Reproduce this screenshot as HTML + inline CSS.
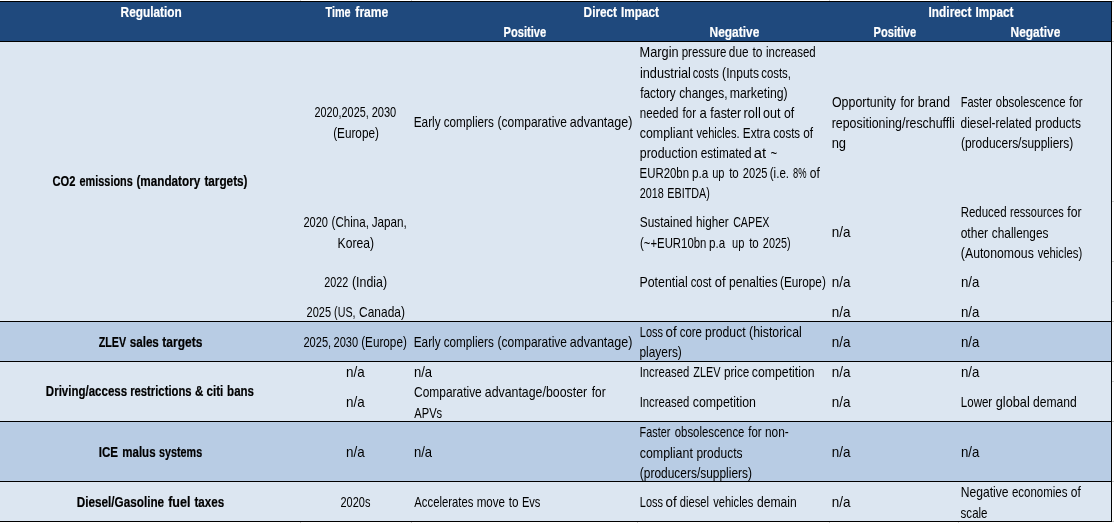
<!DOCTYPE html>
<html lang="en">
<head>
<meta charset="utf-8">
<title>Regulation impact table</title>
<style>
html,body{margin:0;padding:0;background:#fff;}
body{width:1114px;height:523px;overflow:hidden;position:relative;font-family:"Liberation Sans",sans-serif;font-size:14.3px;line-height:20px;color:#000;}
#tbl{position:absolute;left:0;top:1px;width:1112px;height:521px;background:#000;overflow:hidden;}
.r{position:absolute;left:0;width:1111px;}
.l{position:absolute;left:0;height:20px;white-space:pre;}
.l span{position:absolute;left:0;top:0;height:20px;white-space:pre;transform-origin:0 50%;}
.b{font-weight:bold;-webkit-text-stroke:0.2px currentColor;}
.w{color:#fff;}
.g{position:absolute;background:#d2d2d2;}
</style>
</head>
<body>
<i class="g" style="left:300px;top:0;width:1px;height:1px"></i><i class="g" style="left:300px;top:522px;width:1px;height:1px"></i>
<i class="g" style="left:411px;top:0;width:1px;height:1px"></i><i class="g" style="left:411px;top:522px;width:1px;height:1px"></i>
<i class="g" style="left:637px;top:0;width:1px;height:1px"></i><i class="g" style="left:637px;top:522px;width:1px;height:1px"></i>
<i class="g" style="left:829px;top:0;width:1px;height:1px"></i><i class="g" style="left:829px;top:522px;width:1px;height:1px"></i>
<i class="g" style="left:958px;top:0;width:1px;height:1px"></i><i class="g" style="left:958px;top:522px;width:1px;height:1px"></i>
<i class="g" style="left:1112px;top:1px;width:2px;height:1px"></i>
<i class="g" style="left:1112px;top:21px;width:2px;height:1px"></i>
<i class="g" style="left:1112px;top:41px;width:2px;height:1px"></i>
<i class="g" style="left:1112px;top:201px;width:2px;height:1px"></i>
<i class="g" style="left:1112px;top:261px;width:2px;height:1px"></i>
<i class="g" style="left:1112px;top:301px;width:2px;height:1px"></i>
<i class="g" style="left:1112px;top:321px;width:2px;height:1px"></i>
<i class="g" style="left:1112px;top:361px;width:2px;height:1px"></i>
<i class="g" style="left:1112px;top:381px;width:2px;height:1px"></i>
<i class="g" style="left:1112px;top:421px;width:2px;height:1px"></i>
<i class="g" style="left:1112px;top:481px;width:2px;height:1px"></i>
<i class="g" style="left:1112px;top:521px;width:2px;height:1px"></i>
<div id="tbl">
<div class="r" style="top:1px;height:39px;background:#1f497d"></div>
<div class="r" style="top:41px;height:279px;background:#dce6f1"></div>
<div class="r" style="top:321px;height:39px;background:#b8cce4"></div>
<div class="r" style="top:361px;height:59px;background:#dce6f1"></div>
<div class="r" style="top:421px;height:59px;background:#b8cce4"></div>
<div class="r" style="top:481px;height:39px;background:#dce6f1"></div>
</div>
<div class="l b w" style="top:2.05px"><span style="transform:translateX(120.60px) scaleX(0.828)">Regulation</span></div>
<div class="l b w" style="top:2.05px"><span style="transform:translateX(325.56px) scaleX(0.757)">Time</span> <span style="transform:translateX(355.36px) scaleX(0.845)">frame</span></div>
<div class="l b w" style="top:2.05px"><span style="transform:translateX(583.62px) scaleX(0.824)">Direct</span> <span style="transform:translateX(620.99px) scaleX(0.825)">Impact</span></div>
<div class="l b w" style="top:2.05px"><span style="transform:translateX(928.58px) scaleX(0.829)">Indirect</span> <span style="transform:translateX(975.40px) scaleX(0.826)">Impact</span></div>
<div class="l b w" style="top:22.05px"><span style="transform:translateX(503.61px) scaleX(0.777)">Positive</span></div>
<div class="l b w" style="top:22.05px"><span style="transform:translateX(709.58px) scaleX(0.834)">Negative</span></div>
<div class="l b w" style="top:22.05px"><span style="transform:translateX(873.61px) scaleX(0.777)">Positive</span></div>
<div class="l b w" style="top:22.05px"><span style="transform:translateX(1010.58px) scaleX(0.834)">Negative</span></div>
<div class="l b" style="top:171.05px"><span style="transform:translateX(52.42px) scaleX(0.781)">CO2</span> <span style="transform:translateX(79.55px) scaleX(0.761)">emissions</span> <span style="transform:translateX(136.39px) scaleX(0.820)">(mandatory</span> <span style="transform:translateX(204.41px) scaleX(0.822)">targets)</span></div>
<div class="l b" style="top:332.05px"><span style="transform:translateX(98.69px) scaleX(0.750)">ZLEV</span> <span style="transform:translateX(129.68px) scaleX(0.815)">sales</span> <span style="transform:translateX(162.37px) scaleX(0.839)">targets</span></div>
<div class="l b" style="top:381.05px"><span style="transform:translateX(45.86px) scaleX(0.805)">Driving/access</span> <span style="transform:translateX(130.18px) scaleX(0.788)">restrictions</span> <span style="transform:translateX(195.03px) scaleX(0.811)">&amp;</span> <span style="transform:translateX(206.43px) scaleX(0.814)">citi</span> <span style="transform:translateX(227.11px) scaleX(0.806)">bans</span></div>
<div class="l b" style="top:442.05px"><span style="transform:translateX(98.75px) scaleX(0.808)">ICE</span> <span style="transform:translateX(122.28px) scaleX(0.805)">malus</span> <span style="transform:translateX(159.06px) scaleX(0.753)">systems</span></div>
<div class="l b" style="top:492.05px"><span style="transform:translateX(76.79px) scaleX(0.820)">Diesel/Gasoline</span> <span style="transform:translateX(168.19px) scaleX(0.874)">fuel</span> <span style="transform:translateX(194.43px) scaleX(0.813)">taxes</span></div>
<div class="l" style="top:102.05px"><span style="transform:translateX(314.51px) scaleX(0.757)">2020,2025,</span> <span style="transform:translateX(371.64px) scaleX(0.773)">2030</span></div>
<div class="l" style="top:122.55px"><span style="transform:translateX(333.15px) scaleX(0.822)">(Europe)</span></div>
<div class="l" style="top:212.05px"><span style="transform:translateX(303.41px) scaleX(0.774)">2020</span> <span style="transform:translateX(331.55px) scaleX(0.810)">(China,</span> <span style="transform:translateX(371.71px) scaleX(0.819)">Japan,</span></div>
<div class="l" style="top:232.55px"><span style="transform:translateX(337.56px) scaleX(0.850)">Korea)</span></div>
<div class="l" style="top:272.05px"><span style="transform:translateX(324.32px) scaleX(0.756)">2022</span> <span style="transform:translateX(351.97px) scaleX(0.866)">(India)</span></div>
<div class="l" style="top:302.05px"><span style="transform:translateX(306.62px) scaleX(0.770)">2025</span> <span style="transform:translateX(334.11px) scaleX(0.749)">(US,</span> <span style="transform:translateX(359.09px) scaleX(0.835)">Canada)</span></div>
<div class="l" style="top:332.05px"><span style="transform:translateX(303.41px) scaleX(0.775)">2025,</span> <span style="transform:translateX(333.48px) scaleX(0.773)">2030</span> <span style="transform:translateX(361.19px) scaleX(0.820)">(Europe)</span></div>
<div class="l" style="top:362.05px"><span style="transform:translateX(345.96px) scaleX(0.938)">n/a</span></div>
<div class="l" style="top:392.05px"><span style="transform:translateX(345.96px) scaleX(0.938)">n/a</span></div>
<div class="l" style="top:442.05px"><span style="transform:translateX(345.96px) scaleX(0.938)">n/a</span></div>
<div class="l" style="top:492.05px"><span style="transform:translateX(340.49px) scaleX(0.767)">2020s</span></div>
<div class="l" style="top:112.05px"><span style="transform:translateX(413.70px) scaleX(0.828)">Early</span> <span style="transform:translateX(443.73px) scaleX(0.818)">compliers</span> <span style="transform:translateX(497.58px) scaleX(0.840)">(comparative</span> <span style="transform:translateX(569.76px) scaleX(0.875)">advantage)</span></div>
<div class="l" style="top:332.05px"><span style="transform:translateX(413.70px) scaleX(0.828)">Early</span> <span style="transform:translateX(443.73px) scaleX(0.818)">compliers</span> <span style="transform:translateX(497.58px) scaleX(0.840)">(comparative</span> <span style="transform:translateX(569.76px) scaleX(0.875)">advantage)</span></div>
<div class="l" style="top:362.05px"><span style="transform:translateX(413.95px) scaleX(0.916)">n/a</span></div>
<div class="l" style="top:382.05px"><span style="transform:translateX(414.06px) scaleX(0.835)">Comparative</span> <span style="transform:translateX(484.78px) scaleX(0.864)">advantage/booster</span> <span style="transform:translateX(591.74px) scaleX(0.830)">for</span></div>
<div class="l" style="top:402.55px"><span style="transform:translateX(414.33px) scaleX(0.779)">APVs</span></div>
<div class="l" style="top:442.05px"><span style="transform:translateX(413.95px) scaleX(0.916)">n/a</span></div>
<div class="l" style="top:492.05px"><span style="transform:translateX(414.31px) scaleX(0.790)">Accelerates</span> <span style="transform:translateX(476.64px) scaleX(0.813)">move</span> <span style="transform:translateX(508.71px) scaleX(0.819)">to</span> <span style="transform:translateX(521.92px) scaleX(0.776)">Evs</span></div>
<div class="l" style="top:42.05px"><span style="transform:translateX(639.54px) scaleX(0.893)">Margin</span> <span style="transform:translateX(681.70px) scaleX(0.805)">pressure</span> <span style="transform:translateX(728.83px) scaleX(0.824)">due</span> <span style="transform:translateX(752.43px) scaleX(0.843)">to</span> <span style="transform:translateX(766.08px) scaleX(0.800)">increased</span></div>
<div class="l" style="top:62.75px"><span style="transform:translateX(639.88px) scaleX(0.892)">industrial</span> <span style="transform:translateX(692.71px) scaleX(0.779)">costs</span> <span style="transform:translateX(722.12px) scaleX(0.843)">(Inputs</span> <span style="transform:translateX(761.25px) scaleX(0.796)">costs,</span></div>
<div class="l" style="top:83.05px"><span style="transform:translateX(640.13px) scaleX(0.831)">factory</span> <span style="transform:translateX(679.17px) scaleX(0.832)">changes,</span> <span style="transform:translateX(729.72px) scaleX(0.858)">marketing)</span></div>
<div class="l" style="top:103.05px"><span style="transform:translateX(639.85px) scaleX(0.811)">needed</span> <span style="transform:translateX(682.57px) scaleX(0.803)">for</span> <span style="transform:translateX(699.62px) scaleX(0.918)">a</span> <span style="transform:translateX(710.35px) scaleX(0.863)">faster</span> <span style="transform:translateX(743.50px) scaleX(0.908)">roll</span> <span style="transform:translateX(763.05px) scaleX(0.880)">out</span> <span style="transform:translateX(784.00px) scaleX(0.858)">of</span></div>
<div class="l" style="top:123.05px"><span style="transform:translateX(639.71px) scaleX(0.869)">compliant</span> <span style="transform:translateX(696.53px) scaleX(0.772)">vehicles.</span> <span style="transform:translateX(742.83px) scaleX(0.822)">Extra</span> <span style="transform:translateX(773.27px) scaleX(0.804)">costs</span> <span style="transform:translateX(803.28px) scaleX(0.828)">of</span></div>
<div class="l" style="top:143.05px"><span style="transform:translateX(639.84px) scaleX(0.865)">production</span> <span style="transform:translateX(700.69px) scaleX(0.822)">estimated</span> <span style="transform:translateX(753.69px) scaleX(1.031)">at</span> <span style="transform:translateX(770.54px) scaleX(0.806)">~</span></div>
<div class="l" style="top:163.05px"><span style="transform:translateX(639.59px) scaleX(0.797)">EUR20bn</span> <span style="transform:translateX(691.92px) scaleX(0.822)">p.a</span> <span style="transform:translateX(712.16px) scaleX(0.772)">up</span> <span style="transform:translateX(729.16px) scaleX(0.807)">to</span> <span style="transform:translateX(742.80px) scaleX(0.776)">2025</span> <span style="transform:translateX(769.77px) scaleX(0.809)">(i.e.</span> <span style="transform:translateX(792.95px) scaleX(0.652)">8%</span> <span style="transform:translateX(809.86px) scaleX(0.841)">of</span></div>
<div class="l" style="top:183.05px"><span style="transform:translateX(639.67px) scaleX(0.759)">2018</span> <span style="transform:translateX(667.37px) scaleX(0.753)">EBITDA)</span></div>
<div class="l" style="top:212.05px"><span style="transform:translateX(639.80px) scaleX(0.828)">Sustained</span> <span style="transform:translateX(696.08px) scaleX(0.820)">higher</span> <span style="transform:translateX(733.15px) scaleX(0.748)">CAPEX</span></div>
<div class="l" style="top:233.05px"><span style="transform:translateX(640.00px) scaleX(0.795)">(~+EUR10bn</span> <span style="transform:translateX(709.08px) scaleX(0.814)">p.a</span>  <span style="transform:translateX(732.03px) scaleX(0.776)">up</span> <span style="transform:translateX(749.16px) scaleX(0.807)">to</span> <span style="transform:translateX(762.85px) scaleX(0.759)">2025)</span></div>
<div class="l" style="top:272.05px"><span style="transform:translateX(639.45px) scaleX(0.866)">Potential</span> <span style="transform:translateX(690.66px) scaleX(0.795)">cost</span> <span style="transform:translateX(714.71px) scaleX(0.911)">of</span> <span style="transform:translateX(729.00px) scaleX(0.847)">penalties</span> <span style="transform:translateX(780.02px) scaleX(0.823)">(Europe)</span></div>
<div class="l" style="top:322.05px"><span style="transform:translateX(639.81px) scaleX(0.767)">Loss</span> <span style="transform:translateX(665.62px) scaleX(0.935)">of</span> <span style="transform:translateX(679.64px) scaleX(0.804)">core</span> <span style="transform:translateX(704.89px) scaleX(0.855)">product</span> <span style="transform:translateX(749.03px) scaleX(0.862)">(historical</span></div>
<div class="l" style="top:342.05px"><span style="transform:translateX(639.46px) scaleX(0.833)">players)</span></div>
<div class="l" style="top:362.05px"><span style="transform:translateX(639.65px) scaleX(0.792)">Increased</span> <span style="transform:translateX(693.31px) scaleX(0.763)">ZLEV</span> <span style="transform:translateX(723.89px) scaleX(0.822)">price</span> <span style="transform:translateX(751.78px) scaleX(0.860)">competition</span></div>
<div class="l" style="top:392.05px"><span style="transform:translateX(639.65px) scaleX(0.792)">Increased</span> <span style="transform:translateX(692.72px) scaleX(0.865)">competition</span></div>
<div class="l" style="top:422.05px"><span style="transform:translateX(639.58px) scaleX(0.758)">Faster</span> <span style="transform:translateX(674.69px) scaleX(0.798)">obsolescence</span> <span style="transform:translateX(748.21px) scaleX(0.800)">for</span> <span style="transform:translateX(764.91px) scaleX(0.833)">non-</span></div>
<div class="l" style="top:443.05px"><span style="transform:translateX(639.71px) scaleX(0.869)">compliant</span> <span style="transform:translateX(696.45px) scaleX(0.839)">products</span></div>
<div class="l" style="top:462.55px"><span style="transform:translateX(639.82px) scaleX(0.835)">(producers/suppliers)</span></div>
<div class="l" style="top:492.05px"><span style="transform:translateX(639.81px) scaleX(0.767)">Loss</span> <span style="transform:translateX(665.62px) scaleX(0.935)">of</span> <span style="transform:translateX(679.73px) scaleX(0.781)">diesel</span> <span style="transform:translateX(713.17px) scaleX(0.778)">vehicles</span> <span style="transform:translateX(756.89px) scaleX(0.848)">demain</span></div>
<div class="l" style="top:92.05px"><span style="transform:translateX(831.97px) scaleX(0.867)">Opportunity</span> <span style="transform:translateX(900.40px) scaleX(0.821)">for</span> <span style="transform:translateX(917.72px) scaleX(0.886)">brand</span></div>
<div class="l" style="top:112.55px"><span style="transform:translateX(831.73px) scaleX(0.866)">repositioning/reschuffli</span></div>
<div class="l" style="top:132.55px"><span style="transform:translateX(831.65px) scaleX(0.906)">ng</span></div>
<div class="l" style="top:222.05px"><span style="transform:translateX(831.69px) scaleX(0.942)">n/a</span></div>
<div class="l" style="top:272.05px"><span style="transform:translateX(831.69px) scaleX(0.942)">n/a</span></div>
<div class="l" style="top:302.05px"><span style="transform:translateX(831.69px) scaleX(0.942)">n/a</span></div>
<div class="l" style="top:332.05px"><span style="transform:translateX(831.69px) scaleX(0.942)">n/a</span></div>
<div class="l" style="top:362.05px"><span style="transform:translateX(831.69px) scaleX(0.942)">n/a</span></div>
<div class="l" style="top:392.05px"><span style="transform:translateX(831.69px) scaleX(0.942)">n/a</span></div>
<div class="l" style="top:442.05px"><span style="transform:translateX(831.69px) scaleX(0.942)">n/a</span></div>
<div class="l" style="top:492.05px"><span style="transform:translateX(831.69px) scaleX(0.942)">n/a</span></div>
<div class="l" style="top:92.05px"><span style="transform:translateX(960.69px) scaleX(0.773)">Faster</span> <span style="transform:translateX(995.80px) scaleX(0.797)">obsolescence</span> <span style="transform:translateX(1069.21px) scaleX(0.800)">for</span></div>
<div class="l" style="top:112.55px"><span style="transform:translateX(960.59px) scaleX(0.828)">diesel-related</span> <span style="transform:translateX(1034.99px) scaleX(0.837)">products</span></div>
<div class="l" style="top:133.05px"><span style="transform:translateX(960.98px) scaleX(0.836)">(producers/suppliers)</span></div>
<div class="l" style="top:202.05px"><span style="transform:translateX(960.64px) scaleX(0.804)">Reduced</span> <span style="transform:translateX(1010.09px) scaleX(0.769)">ressources</span> <span style="transform:translateX(1067.36px) scaleX(0.852)">for</span></div>
<div class="l" style="top:222.55px"><span style="transform:translateX(960.63px) scaleX(0.844)">other</span> <span style="transform:translateX(991.85px) scaleX(0.827)">challenges</span></div>
<div class="l" style="top:242.75px"><span style="transform:translateX(960.86px) scaleX(0.858)">(Autonomous</span> <span style="transform:translateX(1037.68px) scaleX(0.789)">vehicles)</span></div>
<div class="l" style="top:272.05px"><span style="transform:translateX(960.98px) scaleX(0.926)">n/a</span></div>
<div class="l" style="top:302.05px"><span style="transform:translateX(960.98px) scaleX(0.926)">n/a</span></div>
<div class="l" style="top:332.05px"><span style="transform:translateX(960.98px) scaleX(0.926)">n/a</span></div>
<div class="l" style="top:362.05px"><span style="transform:translateX(960.98px) scaleX(0.926)">n/a</span></div>
<div class="l" style="top:442.05px"><span style="transform:translateX(960.98px) scaleX(0.926)">n/a</span></div>
<div class="l" style="top:392.05px"><span style="transform:translateX(960.82px) scaleX(0.806)">Lower</span> <span style="transform:translateX(995.76px) scaleX(0.891)">global</span> <span style="transform:translateX(1032.89px) scaleX(0.848)">demand</span></div>
<div class="l" style="top:482.05px"><span style="transform:translateX(960.73px) scaleX(0.848)">Negative</span> <span style="transform:translateX(1011.91px) scaleX(0.803)">economies</span> <span style="transform:translateX(1070.86px) scaleX(0.841)">of</span></div>
<div class="l" style="top:502.55px"><span style="transform:translateX(960.58px) scaleX(0.808)">scale</span></div>
</body>
</html>
